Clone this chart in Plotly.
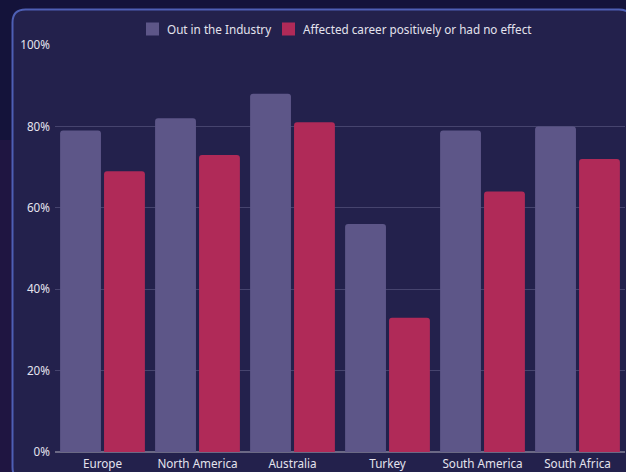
import plotly.graph_objects as go

# Survey results by region (percent of respondents)
regions = ["Europe", "North America", "Australia", "Turkey", "South America", "South Africa"]
out_in_industry = [79, 82, 88, 56, 79, 80]
career_positive = [69, 73, 81, 33, 64, 72]
series_names = ["Out in the Industry", "Affected career positively or had no effect"]
y_ticks = [0, 20, 40, 60, 80, 100]
y_tick_text = ["0%", "20%", "40%", "60%", "80%", "100%"]

W, H = 626, 472
ML, MR, MT, MB = 55, 1, 45, 20
PW, PH = W - ML - MR, H - MT - MB

PURPLE = "#5d5688"
CRIMSON = "#b02a58"
TEXT = "#e4e3ee"
FONT = "Noto Sans"
FS = 11.7


def px(x, y):
    """Convert pixel position to paper coordinates."""
    return (x - ML) / PW, (H - MB - y) / PH


def rounded_rect(x0, y0, x1, y1, r):
    pts = [
        ("M", [(x0 + r, y0)]),
        ("L", [(x1 - r, y0)]),
        ("Q", [(x1, y0), (x1, y0 + r)]),
        ("L", [(x1, y1 - r)]),
        ("Q", [(x1, y1), (x1 - r, y1)]),
        ("L", [(x0 + r, y1)]),
        ("Q", [(x0, y1), (x0, y1 - r)]),
        ("L", [(x0, y0 + r)]),
        ("Q", [(x0, y0), (x0 + r, y0)]),
    ]
    parts = []
    for cmd, coords in pts:
        s = " ".join("%.5f,%.5f" % px(a, b) for a, b in coords)
        parts.append(cmd + " " + s)
    return " ".join(parts) + " Z"


def paper_rect(x0, y0, x1, y1, **kw):
    a0, b0 = px(x0, y0)
    a1, b1 = px(x1, y1)
    return dict(type="rect", xref="paper", yref="paper",
                x0=a0, x1=a1, y0=b1, y1=b0, **kw)


fig = go.Figure()
for name, vals, col in zip(series_names, [out_in_industry, career_positive], [PURPLE, CRIMSON]):
    fig.add_trace(go.Bar(
        name=name, x=regions, y=vals, showlegend=False,
        marker=dict(color=col, cornerradius=3, line=dict(width=0)),
    ))

# left-edge purple haze and the card panel behind the chart
shapes = [
    paper_rect(0, 140, 12, 472, fillcolor="rgba(60,30,85,0.28)", line=dict(width=0), layer="below"),
    dict(type="path", xref="paper", yref="paper",
         path=rounded_rect(12.5, 9.5, 632, 480, 13),
         fillcolor="#23214c", line=dict(color="#4e5fb4", width=2), layer="below"),
]

# legend drawn as swatches + labels, centred above the plot
annotations = []
legend_items = [(146, 165, series_names[0], PURPLE), (282, 301, series_names[1], CRIMSON)]
for sx, tx, label, col in legend_items:
    shapes.append(paper_rect(sx, 22.5, sx + 13, 35.5, fillcolor=col,
                             line=dict(width=0), layer="above"))
    ax, ay = px(tx, 29)
    annotations.append(dict(xref="paper", yref="paper", x=ax, y=ay, text=label,
                            showarrow=False, xanchor="left", yanchor="middle",
                            font=dict(family=FONT, size=FS, color=TEXT)))

fig.update_layout(
    width=W, height=H,
    margin=dict(l=ML, r=MR, t=MT, b=MB),
    paper_bgcolor="#14133a",
    plot_bgcolor="rgba(0,0,0,0)",
    barmode="group", bargap=0.075, bargroupgap=0.07,
    font=dict(family=FONT, color=TEXT, size=FS),
    showlegend=False,
    shapes=shapes,
    annotations=annotations,
    xaxis=dict(showgrid=False, showline=False, ticks="", tickfont=dict(size=FS, color=TEXT),
               ticklabelstandoff=3, fixedrange=True),
    yaxis=dict(range=[0, 100], tickvals=y_ticks, ticktext=y_tick_text,
               showgrid=True, gridcolor="#46446e", gridwidth=1,
               zeroline=True, zerolinecolor="#6b6985", zerolinewidth=1.5,
               showline=False, ticks="", tickfont=dict(size=FS, color=TEXT),
               ticklabelstandoff=4, fixedrange=True),
)

fig.write_html("out.html")
